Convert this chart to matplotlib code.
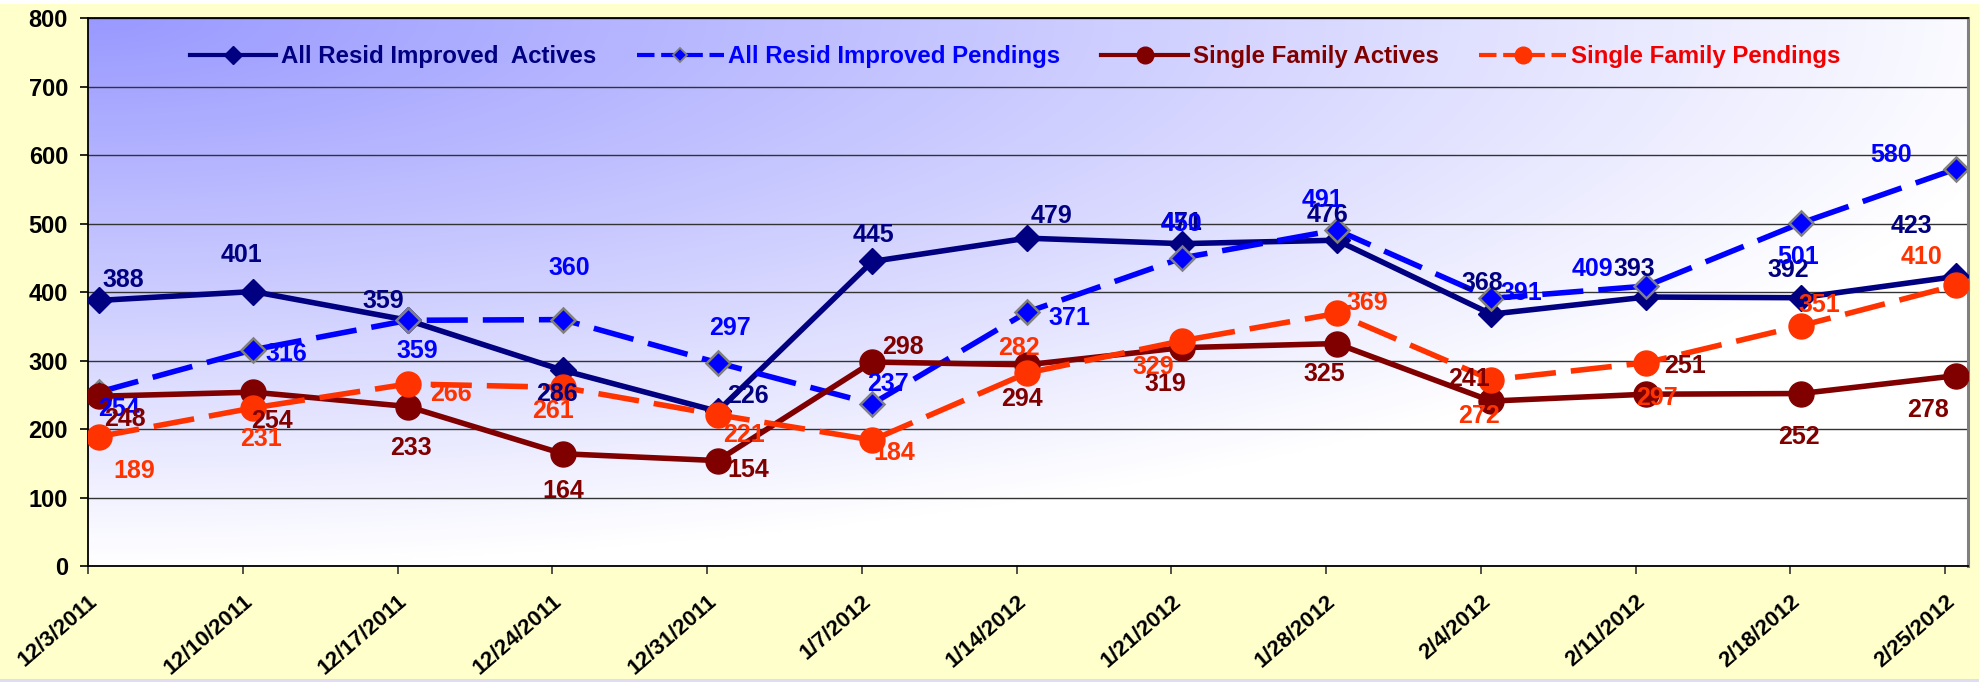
import numpy as np
import matplotlib
matplotlib.use("Agg")
import matplotlib.pyplot as plt
from matplotlib.lines import Line2D
from matplotlib.patches import Rectangle

# ---------------- data ----------------
dates = ["12/3/2011", "12/10/2011", "12/17/2011", "12/24/2011", "12/31/2011",
         "1/7/2012", "1/14/2012", "1/21/2012", "1/28/2012", "2/4/2012",
         "2/11/2012", "2/18/2012", "2/25/2012"]
resid_actives = [388, 401, 359, 286, 226, 445, 479, 471, 476, 368, 393, 392, 423]
resid_pendings = [254, 316, 359, 360, 297, 237, 371, 450, 491, 391, 409, 501, 580]
sf_actives = [248, 254, 233, 164, 154, 298, 294, 319, 325, 241, 251, 252, 278]
sf_pendings = [189, 231, 266, 261, 221, 184, 282, 329, 369, 272, 297, 351, 410]
series_names = ["All Resid Improved  Actives", "All Resid Improved Pendings",
                "Single Family Actives", "Single Family Pendings"]

# ---------------- style ----------------
FONT = "Liberation Sans"
plt.rcParams["font.family"] = [FONT, "DejaVu Sans"]
plt.rcParams["font.weight"] = "bold"

NAVY = "#000080"
BLUE = "#0000FF"
DRED = "#800000"
ORANGE = "#FF3300"
LEG_RED = "#F00000"

# label offsets in pixels (dx right, dy down)
off_ra = [(25, -20), (-12, -37), (-25, -19), (-6, 24), (30, -15), (1, -26), (24, -22),
          (0, -21), (-9, -25), (-9, -31), (-12, -28), (-13, -28), (-44, -50)]
off_rp = [(20, 17), (33, 4), (9, 31), (6, -52), (12, -35), (16, -20), (42, 6),
          (0, -34), (-14, -30), (30, -5), (-54, -17), (-3, 34), (-65, -14)]
off_sa = [(26, 23), (19, 29), (3, 41), (0, 37), (31, 9), (31, -15), (-5, 34),
          (-16, 36), (-12, 30), (-22, -22), (39, -28), (-2, 43), (-28, 34)]
off_sp = [(36, 34), (8, 31), (43, 10), (-10, 24), (26, 20), (22, 13), (-8, -25),
          (-29, 26), (31, -10), (-12, 36), (11, 35), (19, -21), (-34, -28)]

fig = plt.figure(figsize=(19.79, 6.82), dpi=100)
fig.patch.set_facecolor("#FFFFCC")
# thin white strip on top and lavender line at bottom of the picture
fig.patches.append(Rectangle((0, 0.994), 1, 0.006, transform=fig.transFigure,
                             facecolor="white", edgecolor="none", zorder=-5))
fig.patches.append(Rectangle((0, 0.0), 1, 0.004, transform=fig.transFigure,
                             facecolor="#DDDDF5", edgecolor="none", zorder=-5))

ax = fig.add_axes([0.04447, 0.1701, 0.94997, 0.8028])

# gradient background (blue top-left corner fading to white)
ny, nx = 300, 600
u = np.linspace(0, 1, nx)[None, :]
v = np.linspace(0, 1, ny)[:, None]
b = np.clip(1 - np.sqrt((u / 1.05) ** 2 + v ** 2), 0, 1)
top = np.array([153, 153, 255]) / 255.0
img = 1 - b[..., None] * (1 - top)
ax.imshow(img, extent=[0, 1, 0, 1], transform=ax.transAxes, aspect="auto",
          zorder=0, interpolation="bilinear")

x = np.arange(len(dates))
LW = 4.0
DASH = (0, (7.4, 2.7))
ax.plot(x, resid_actives, color=NAVY, lw=LW, marker="D", ms=13,
        mfc=NAVY, mec=NAVY, zorder=3, solid_joinstyle="round")
ax.plot(x, resid_pendings, color=BLUE, lw=LW, ls=DASH, dash_capstyle="butt",
        marker="D", ms=12.5, mfc=BLUE, mec="#808080", mew=1.8, zorder=4)
ax.plot(x, sf_actives, color=DRED, lw=LW, marker="o", ms=18,
        mfc=DRED, mec=DRED, zorder=5)
ax.plot(x, sf_pendings, color=ORANGE, lw=LW, ls=DASH, dash_capstyle="butt",
        marker="o", ms=18, mfc=ORANGE, mec=ORANGE, zorder=6)

LFS = 18
for vals, offs, col in [(resid_actives, off_ra, NAVY), (resid_pendings, off_rp, BLUE),
                        (sf_actives, off_sa, DRED), (sf_pendings, off_sp, ORANGE)]:
    for xi, val, (dx, dy) in zip(x, vals, offs):
        ax.annotate(str(val), (xi, val), xytext=(dx, -dy), textcoords="offset pixels",
                    ha="center", va="center", fontsize=LFS, fontweight="bold",
                    color=col, zorder=10)

# axes limits & ticks
ax.set_xlim(-0.068, 12.08)
ax.set_ylim(0, 800)
ax.set_yticks(np.arange(0, 801, 100))
ax.set_xticks(x - 0.068)
ax.set_xticklabels(dates, rotation=41, ha="right", va="top", rotation_mode="anchor")
ax.tick_params(axis="x", direction="out", length=5.8, width=1.2, color="#333333",
               pad=12, labelsize=16)
ax.tick_params(axis="y", direction="out", length=5.8, width=1.2, color="#000000",
               pad=8.6, labelsize=17)
for lab in ax.get_xticklabels() + ax.get_yticklabels():
    lab.set_fontweight("bold")
    lab.set_color("black")

ax.grid(axis="y", color="#333333", lw=1.0, zorder=1)
ax.set_axisbelow(True)
for side in ["left", "top", "bottom"]:
    ax.spines[side].set_color("black")
    ax.spines[side].set_linewidth(1.3)
ax.spines["right"].set_color("#808080")
ax.spines["right"].set_linewidth(2.2)

# legend
LEGFS = 17.3
handles = [
    Line2D([], [], color=NAVY, lw=3, marker="D", ms=9.2, mfc=NAVY, mec=NAVY),
    Line2D([], [], color=BLUE, lw=3, ls=(0, (4.2, 1.6)), dash_capstyle="butt",
           marker="D", ms=7.5, mfc=BLUE, mec="#808080", mew=1.3),
    Line2D([], [], color=DRED, lw=3, marker="o", ms=12, mfc=DRED, mec=DRED),
    Line2D([], [], color=ORANGE, lw=3, ls=(0, (4.2, 1.6)), dash_capstyle="butt",
           marker="o", ms=12, mfc=ORANGE, mec=ORANGE),
]
leg = ax.legend(handles, series_names, loc="center", bbox_to_anchor=(0.493, 0.93),
                ncol=4, frameon=False, handlelength=3.6,
                handletextpad=0.2, columnspacing=1.7,
                prop={"family": [FONT, "DejaVu Sans"], "weight": "bold", "size": LEGFS})
for t, c in zip(leg.get_texts(), [NAVY, BLUE, DRED, LEG_RED]):
    t.set_color(c)
leg.set_zorder(12)

fig.savefig("out.png", dpi=100, facecolor=fig.get_facecolor())
